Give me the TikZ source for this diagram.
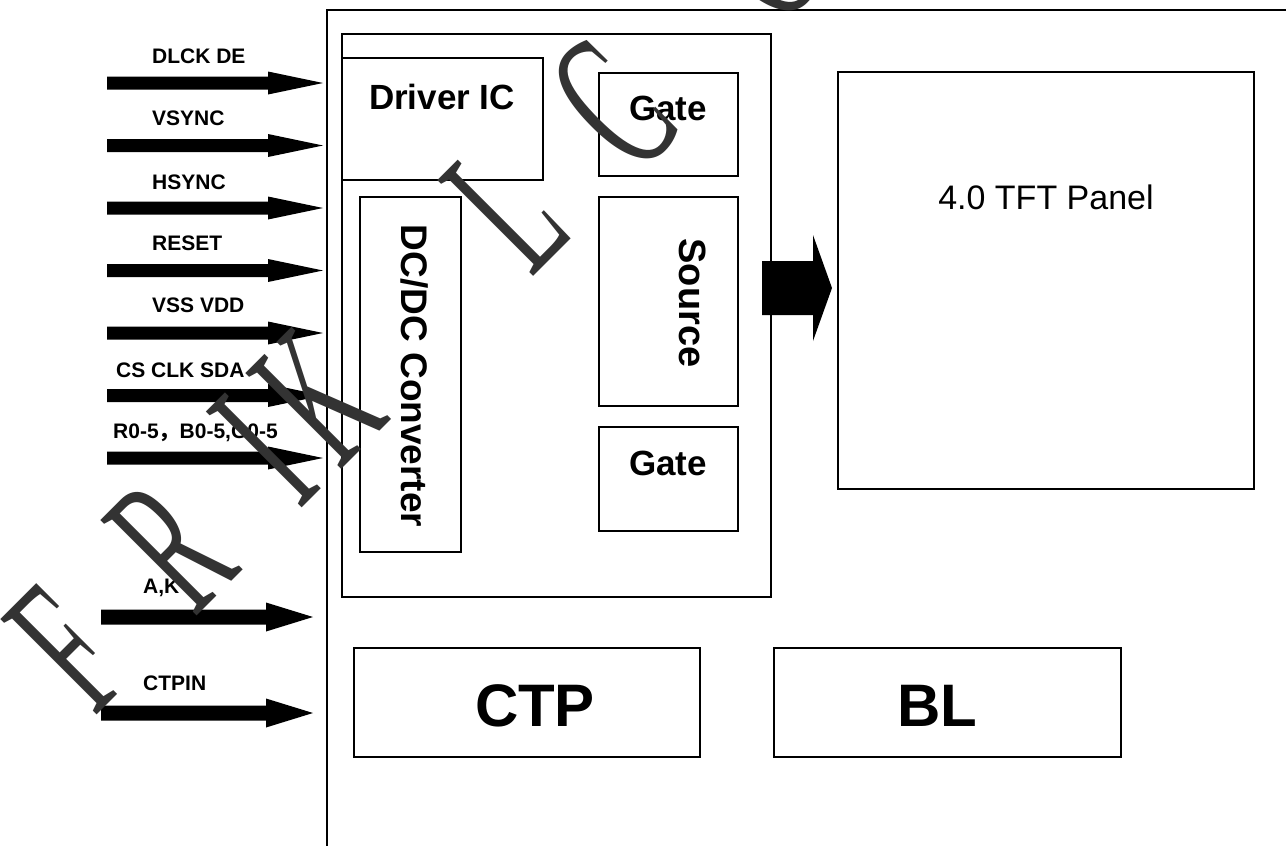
\documentclass[tikz,border=0pt]{standalone}
\usepackage{fontspec}
\setmainfont{Liberation Sans}
\newfontfamily\cjk{Noto Sans CJK SC}
\newfontfamily\wmfont{Liberation Serif}
\usetikzlibrary{calc}
\definecolor{wmgray}{HTML}{333333}
\newcommand{\fatarrow}[5]{%
  \fill ($(#1)+(0,-#3)$) -- ($(#2)+(-#5,-#3)$) -- ($(#2)+(-#5,-#4)$) -- (#2)
        -- ($(#2)+(-#5,#4)$) -- ($(#2)+(-#5,#3)$) -- ($(#1)+(0,#3)$) -- cycle;}
\newcommand{\wmglyph}[1]{\scalebox{0.5}[1]{#1}}
\begin{document}
\begin{tikzpicture}[x=1pt,y=-1pt,
  box/.style={draw, line width=1.6pt},
  lab/.style={font=\fontsize{21}{21}\selectfont\bfseries, anchor=west, inner sep=0pt},
  big/.style={font=\fontsize{36}{36}\selectfont\bfseries, inner sep=0pt},
  wmk/.style={font=\fontsize{207}{207}\selectfont\wmfont, text=wmgray, rotate=45, inner sep=0pt, anchor=base west}]
\useasboundingbox (0,0) rectangle (1286,846);
\fill[white] (0,0) rectangle (1286,846);
% outer module frame
\draw[line width=1.6pt] (327,846) -- (327,10) -- (1286,10);
% IC frame and blocks
\draw[box] (342,34) rectangle (771,597);
\draw[box] (342,58) rectangle (543,180);
\draw[box] (599,73) rectangle (738,176);
\draw[box] (599,197) rectangle (738,406);
\draw[box] (599,427) rectangle (738,531);
\draw[box] (360,197) rectangle (461,552);
\draw[box] (838,72) rectangle (1254,489);
\draw[box] (354,648) rectangle (700,757);
\draw[box] (774,648) rectangle (1121,757);
% block texts
\node[big, font=\fontsize{35}{35}\selectfont\bfseries] (drv) at (442,97) {Driver IC};
\node[big, font=\fontsize{35}{35}\selectfont\bfseries] (gate1) at (668,108) {Gate};
\node[big, rotate=-90, font=\fontsize{38}{38}\selectfont\bfseries] (src) at (693,303) {Source};
\node[big, font=\fontsize{35}{35}\selectfont\bfseries] (gate2) at (668,463) {Gate};
\node[big, rotate=-90, font=\fontsize{37}{37}\selectfont\bfseries] (dcdc) at (415,376) {DC/DC Converter};
\node[inner sep=0pt, font=\fontsize{34}{34}\selectfont] (panel) at (1046,197) {4.0 TFT Panel};
\node[big, font=\fontsize{60}{60}\selectfont\bfseries] (ctp) at (535,706) {CTP};
\node[big, font=\fontsize{60}{60}\selectfont\bfseries] (bl) at (937,706) {BL};
% big arrow to panel
\coordinate (pa0) at (762,288);
\coordinate (pa1) at (832,288);
\fatarrow{pa0}{pa1}{27}{53}{19}
% input arrows
\foreach \n/\y in {1/83,2/145.5,3/208,4/270.5,5/333,6/395.5,7/458}{
  \coordinate (s\n) at (107,\y);
  \coordinate (t\n) at (323,\y);
  \fatarrow{s\n}{t\n}{6.5}{11.5}{55}
}
\foreach \n/\y in {8/617,9/713}{
  \coordinate (s\n) at (101,\y);
  \coordinate (t\n) at (313,\y);
  \fatarrow{s\n}{t\n}{7.5}{14.5}{47}
}
% labels
\node[lab] (l1) at (152,56) {DLCK DE};
\node[lab] (l2) at (152,118) {VSYNC};
\node[lab] (l3) at (152,182) {HSYNC};
\node[lab] (l4) at (152,243) {RESET};
\node[lab] (l5) at (152,305) {VSS VDD};
\node[lab] (l6) at (116,370) {CS CLK SDA};
\node[lab] (l7) at (113,433) {R0-5{\cjk ，}B0-5,G0-5};
\node[lab] (l8) at (143,588) {A,K};
\node[lab] (l9) at (143,683) {CTPIN};
% watermark
\node[wmk] (wF) at (94.2,717.8) {\wmglyph{F}};
\node[wmk] (wR) at (194.2,618.8) {\wmglyph{R}};
\node[wmk] (wI) at (299.8,510.2) {\wmglyph{I}};
\node[wmk] (wK) at (339.2,471.8) {\wmglyph{K}};
\node[wmk] (wL) at (531.2,278.8) {\wmglyph{L}};
\node[wmk, anchor=center] (wC) at (613,105) {\wmglyph{C}};
\node[wmk, anchor=center] (wC2) at (755,-43) {\wmglyph{C}};
\end{tikzpicture}
\end{document}
